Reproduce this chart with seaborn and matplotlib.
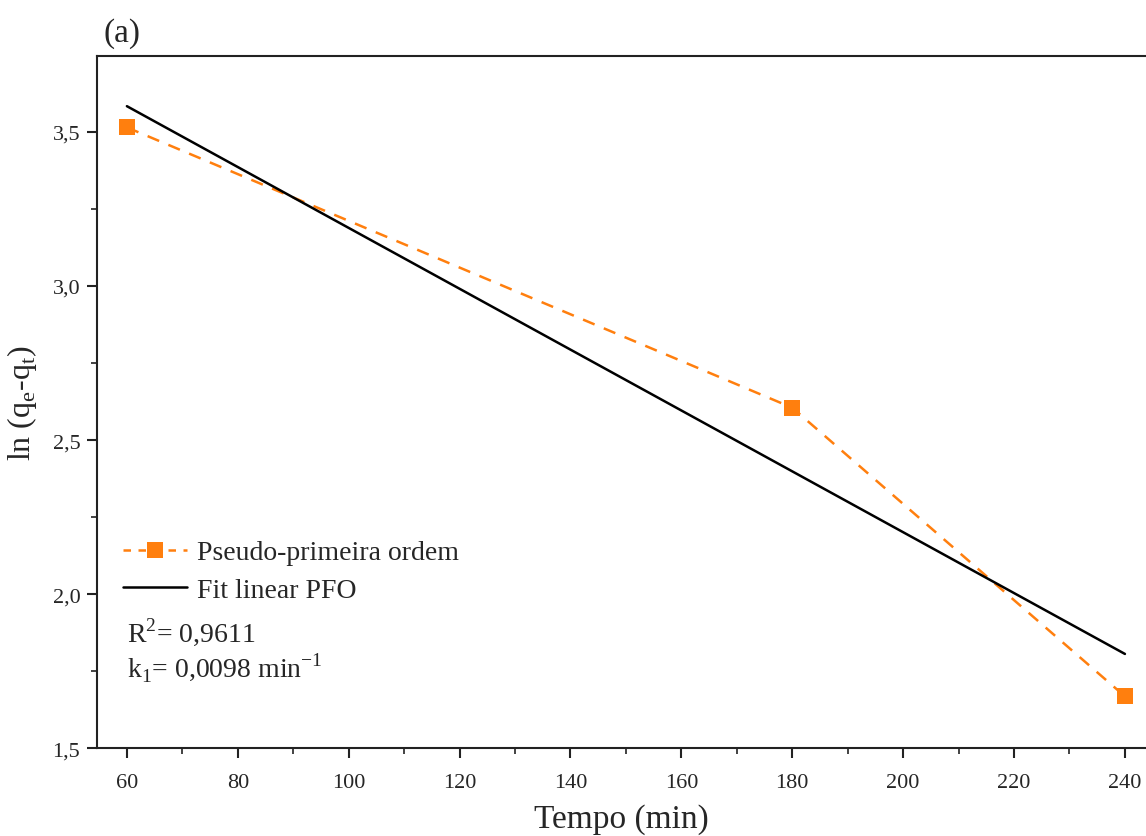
import numpy as np
import pandas as pd
import seaborn as sns
import matplotlib.pyplot as plt
from matplotlib.lines import Line2D
from matplotlib.ticker import MultipleLocator, FuncFormatter

# dados experimentais PFO
tempo = [60, 180, 240]
ln_qe_qt = [3.515, 2.605, 1.668]

sns.set_theme(style='white')
plt.rcParams['font.family'] = ['Liberation Serif', 'DejaVu Serif']
plt.rcParams['mathtext.fontset'] = 'custom'
plt.rcParams['mathtext.rm'] = 'Liberation Serif'

df = pd.DataFrame({'tempo': tempo, 'ln': ln_qe_qt})

# ajuste linear
slope, intercept = np.polyfit(tempo, ln_qe_qt, 1)
fit_x = np.array([min(tempo), max(tempo)])
fit_y = slope * fit_x + intercept

fig = plt.figure(figsize=(11.46, 8.37), dpi=100)
ax = fig.add_axes([0.0846, 0.105, 0.9154, 0.827])

sns.lineplot(data=df, x='tempo', y='ln', ax=ax, color='#ff7f0e',
             linestyle=(0, (5, 4)), linewidth=1.8, marker='s', markersize=11,
             markeredgewidth=0)
sns.lineplot(x=fit_x, y=fit_y, ax=ax, color='black', linewidth=1.8)

ax.set_xlim(54.6, 243.8)
ax.set_ylim(1.5, 3.747)
ax.xaxis.set_major_locator(MultipleLocator(20))
ax.xaxis.set_minor_locator(MultipleLocator(10))
ax.yaxis.set_major_locator(MultipleLocator(0.5))
ax.yaxis.set_minor_locator(MultipleLocator(0.25))
ax.yaxis.set_major_formatter(FuncFormatter(lambda v, p: f'{v:.1f}'.replace('.', ',')))

ax.tick_params(which='major', direction='out', length=7, width=1.5,
               labelsize=16, color='#222222', bottom=True, left=True)
ax.tick_params(axis='x', which='major', pad=11)
ax.tick_params(axis='y', which='major', pad=5)
ax.tick_params(which='minor', direction='out', length=4, width=1.2,
               color='#222222', bottom=True, left=True)
for s in ['left', 'bottom', 'top']:
    ax.spines[s].set_color('#222222')
    ax.spines[s].set_linewidth(1.5)
ax.spines['right'].set_visible(False)

ax.set_xlabel('Tempo (min)', fontsize=24, labelpad=8)
ax.set_ylabel(r'ln (q$_\mathrm{e}$-q$_\mathrm{t}$)', fontsize=23, labelpad=10)
ax.text(0.006, 1.012, '(a)', transform=ax.transAxes, fontsize=24,
        ha='left', va='bottom')

handles = [
    Line2D([], [], color='#ff7f0e', linestyle=(0, (3, 3)), linewidth=1.8,
           marker='s', markersize=11, markeredgewidth=0),
    Line2D([], [], color='black', linewidth=1.8),
]
ax.legend(handles, ['Pseudo-primeira ordem', 'Fit linear PFO'],
          loc='upper left', bbox_to_anchor=(0.0143, 0.317), frameon=False,
          fontsize=20, handlelength=2.3, handletextpad=0.36, labelspacing=0.45,
          borderaxespad=0)

ax.text(0.0286, 0.169, r'R$^2$= 0,9611', transform=ax.transAxes, fontsize=20,
        va='center')
ax.text(0.0286, 0.117, r'k$_1$= 0,0098 min$^{\mathrm{-1}}$', transform=ax.transAxes,
        fontsize=20, va='center')

fig.savefig('out.png', dpi=100)
